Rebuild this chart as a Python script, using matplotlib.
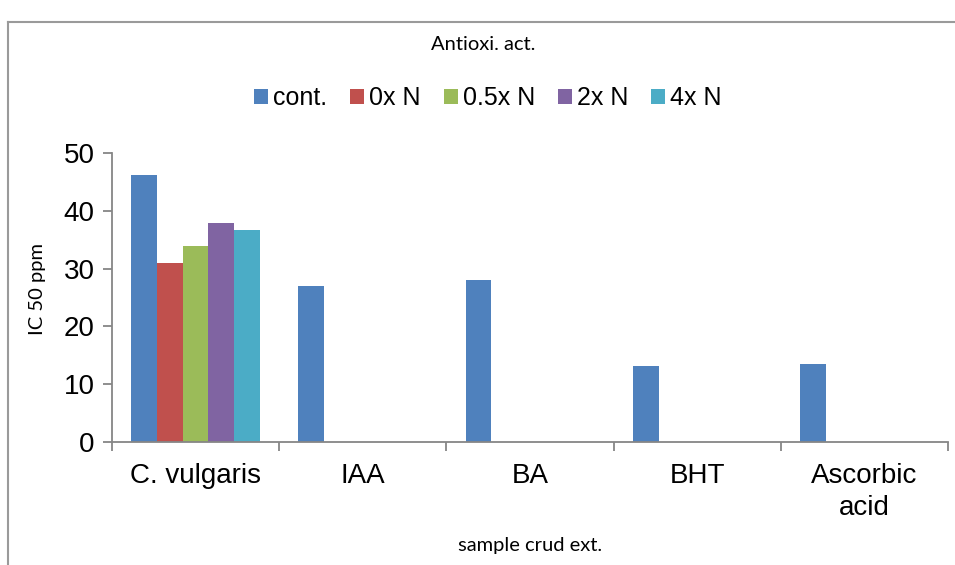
import numpy as np
import matplotlib
matplotlib.use("Agg")
import matplotlib.pyplot as plt
from matplotlib.lines import Line2D

# data
categories = ["C. vulgaris", "IAA", "BA", "BHT", "Ascorbic\nacid"]
series_names = ["cont.", "0x N", "0.5x N", "2x N", "4x N"]
cont = [46.2, 27.0, 28.0, 13.2, 13.4]
n0 = [31.0, 0, 0, 0, 0]
n05 = [33.9, 0, 0, 0, 0]
n2 = [37.9, 0, 0, 0, 0]
n4 = [36.7, 0, 0, 0, 0]
colors = ["#4F81BD", "#C0504D", "#9BBB59", "#8064A2", "#4BACC6"]

plt.rcParams['font.family'] = ['Liberation Sans', 'DejaVu Sans']
axis_grey = "#868686"
small_font = ['Lato', 'DejaVu Sans']

fig = plt.figure(figsize=(9.55, 5.65), dpi=100)
ax = fig.add_axes([112 / 955, 1 - 441.7 / 565, (948 - 112) / 955, (441.7 - 153.3) / 565])

x = np.arange(len(categories))
w = 1 / 6.5  # excel gap width 150%
all_series = [cont, n0, n05, n2, n4]
for i, (vals, name, c) in enumerate(zip(all_series, series_names, colors)):
    ax.bar(x + (i - 2) * w, vals, width=w, color=c, label=name, linewidth=0)

ax.set_xlim(-0.5, len(categories) - 0.5)
ax.set_ylim(0, 50)
ax.set_yticks(range(0, 51, 10))
ax.set_xticks(np.arange(-0.5, len(categories), 1.0))
ax.set_xticklabels([])
ax.set_xticks(x, minor=True)
ax.set_xticklabels(categories, minor=True, fontsize=20, linespacing=1.3)
ax.tick_params(axis='x', which='major', length=6.5, width=1.3, color=axis_grey)
ax.tick_params(axis='x', which='minor', length=0, pad=15)
ax.tick_params(axis='y', length=6.5, width=1.3, color=axis_grey, labelsize=20, pad=6)

for s in ["top", "right"]:
    ax.spines[s].set_visible(False)
for s in ["left", "bottom"]:
    ax.spines[s].set_color(axis_grey)
    ax.spines[s].set_linewidth(1.3)

fig.text(38 / 955, 1 - 289 / 565, "IC 50 ppm", rotation=90, ha="center", va="center",
         fontsize=14.5, family=small_font)
fig.text(530 / 955, 1 - 546 / 565, "sample crud ext.", ha="center", va="center",
         fontsize=14.5, family=small_font)
fig.text(483 / 955, 1 - 44 / 565, "Antioxi. act.", ha="center", va="center",
         fontsize=14.5, family=small_font)

fig.legend(loc="center", bbox_to_anchor=(488 / 955, 1 - 98 / 565), ncol=5, frameon=False,
           fontsize=18, handlelength=0.56, handleheight=0.56, handletextpad=0.2,
           columnspacing=0.92, borderaxespad=0)

# outer chart frame (left and top edges visible)
fig.add_artist(Line2D([8 / 955, 8 / 955], [0, 1 - 22 / 565], transform=fig.transFigure,
                      color="#9a9a9a", linewidth=1.5))
fig.add_artist(Line2D([8 / 955, 1], [1 - 22 / 565, 1 - 22 / 565], transform=fig.transFigure,
                      color="#9a9a9a", linewidth=1.5))

fig.savefig("out.png", dpi=100)
